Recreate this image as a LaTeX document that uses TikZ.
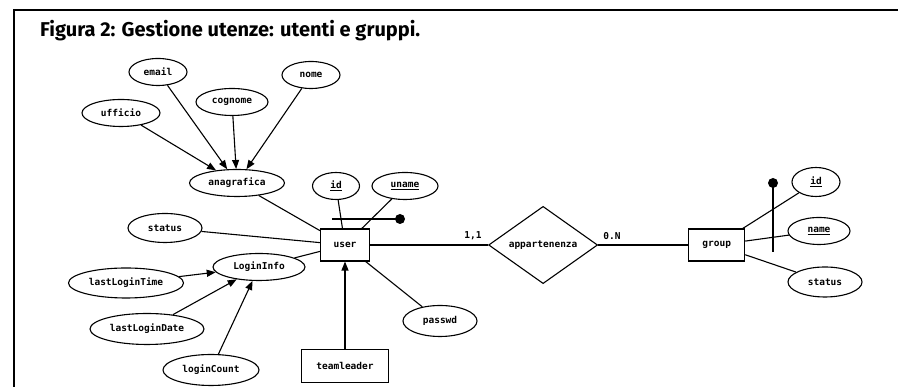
\documentclass[tikz,border=0pt]{standalone}
\usepackage{fontspec}
\setmainfont{Fira Sans}
\newfontfamily\ermono{DejaVu Sans Mono}
\usetikzlibrary{arrows.meta,positioning,shapes.geometric}
\newcommand{\diagfont}{\ermono\bfseries\fontsize{9.5}{11}\selectfont}
\tikzset{
  attr/.style={draw,ellipse,line width=1.1pt,inner sep=0pt,minimum height=27pt,font=\diagfont},
  ent/.style={draw,rectangle,line width=1.1pt,inner sep=0pt,minimum height=32pt,font=\diagfont},
  rel/.style={draw,diamond,line width=1.1pt,inner sep=0pt,minimum width=109pt,minimum height=66pt,font=\diagfont},
  card/.style={inner sep=0pt,font=\diagfont},
  link/.style={line width=1.1pt},
  arr/.style={-{Triangle[length=9pt,width=7pt]},line width=1.1pt},
  iddot/.style={circle,fill,inner sep=0pt,minimum size=10pt}
}

\begin{document}
\begin{tikzpicture}[x=1pt,y=1pt,node distance=10pt]
    \useasboundingbox (0,0) rectangle (898,387);
    \draw[line width=1.6pt] (13,377) -- (898,377);
    \draw[line width=1.2pt] (14,377) -- (14,0);
    \node[anchor=base west,inner sep=0pt,font=\fontsize{20}{24}\selectfont\bfseries] (title) at (40,350) {Figura 2: Gestione utenze: utenti e gruppi.};

    \node[ent,minimum width=49pt] (user) at (345,142) {user};
    \node[rel,right=118pt of user] (app) {appartenenza};
    \node[ent,minimum width=56pt,right=90pt of app] (group) {group};
    \node[ent,minimum width=87pt,minimum height=33pt,below=87pt of user] (lead) {teamleader};

    \node[attr,minimum width=58pt] (email) at (158,315) {email};
    \node[attr,minimum width=58pt] (nome) at (311,312) {nome};
    \node[attr,minimum width=72pt] (cognome) at (232,285) {cognome};
    \node[attr,minimum width=78pt] (ufficio) at (121,274) {ufficio};
    \node[attr,minimum width=95pt] (anag) at (237,204) {anagrafica};
    \node[attr,minimum width=47pt] (uid) at (336,201) {\underline{id}};
    \node[attr,minimum width=66pt] (uname) at (405,201) {\underline{uname}};
    \node[attr,minimum width=74pt,minimum height=29pt] (ustatus) at (165,159) {status};
    \node[attr,minimum width=92pt] (login) at (259,120) {LoginInfo};
    \node[attr,minimum width=115pt,minimum height=30pt] (ltime) at (126,104) {lastLoginTime};
    \node[attr,minimum width=114pt,minimum height=31pt] (ldate) at (147,58) {lastLoginDate};
    \node[attr,minimum width=96pt,minimum height=31pt] (lcount) at (211,17) {loginCount};
    \node[attr,minimum width=74pt,minimum height=31pt] (passwd) at (440,66) {passwd};
    \node[attr,minimum width=48pt,minimum height=29pt] (gid) at (816,205) {\underline{id}};
    \node[attr,minimum width=62pt] (gname) at (819,156) {\underline{name}};
    \node[attr,minimum width=74pt,minimum height=30pt] (gstatus) at (825,105) {status};

    \node[card] (c11) at (473,151) {1,1};
    \node[card] (c0n) at (612,151) {0.N};

    \coordinate (ubar) at (332,168);
    \node[iddot] (udot) at (400,168) {};
    \draw[link] (ubar) -- (udot.center);
    \node[iddot] (gdot) at (773,204) {};
    \coordinate (gbar) at (773,135);
    \draw[link] (gdot.center) -- (gbar);

    \foreach \a in {ufficio,email,cognome,nome}
      \draw[arr] (\a) -- (anag);
    \foreach \a in {ltime,ldate,lcount}
      \draw[arr] (\a) -- (login);
    \foreach \a in {anag,uid,uname,ustatus,login,passwd}
      \draw[link] (\a) -- (user);
    \draw[arr] (lead) -- (user);
    \draw[link] (user) -- (app);
    \draw[link] (app) -- (group);
    \foreach \a in {gid,gname,gstatus}
      \draw[link] (group) -- (\a);
  \end{tikzpicture}
\end{document}
